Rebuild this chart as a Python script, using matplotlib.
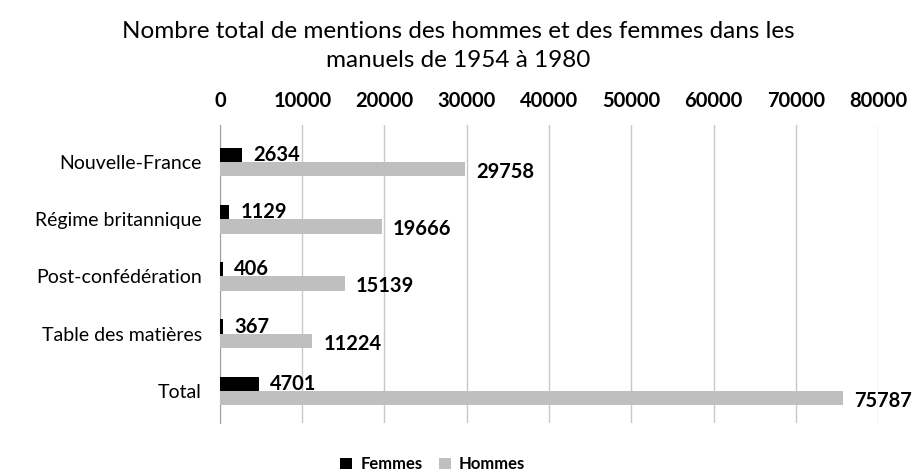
import numpy as np
import matplotlib.pyplot as plt

categories = ['Nouvelle-France', 'Régime britannique', 'Post-confédération',
              'Table des matières', 'Total']
femmes = [2634, 1129, 406, 367, 4701]
hommes = [29758, 19666, 15139, 11224, 75787]

plt.rcParams['font.family'] = ['Lato', 'DejaVu Sans']

fig = plt.figure(figsize=(9.17, 4.73), dpi=100)
ax = fig.add_axes([0.2399, 0.1057, 0.9575 - 0.2399, 0.7357 - 0.1057])

y = np.arange(len(categories))
h = 0.25
bf = ax.barh(y - h / 2, femmes, height=h, color='#000000', label='Femmes', zorder=3)
bh = ax.barh(y + h / 2, hommes, height=h, color='#bfbfbf', label='Hommes', zorder=3)

# data labels
for yi, v in zip(y, femmes):
    ax.annotate(str(v), (v, yi - h / 2), xytext=(8, 0), textcoords='offset points',
                va='center', ha='left', fontsize=14.5, fontweight='bold')
for yi, v in zip(y, hommes):
    ax.annotate(str(v), (v, yi + h / 2), xytext=(8, -2), textcoords='offset points',
                va='center', ha='left', fontsize=14.5, fontweight='bold')

ax.set_xlim(0, 80000)
ax.set_ylim(4.56, -0.646)
ax.set_xticks(np.arange(0, 80001, 10000))
ax.xaxis.tick_top()
ax.tick_params(axis='x', length=0, pad=10, labelsize=14.5)
for lab in ax.get_xticklabels():
    lab.set_fontweight('bold')
ax.set_yticks(y)
ax.set_yticklabels(categories, fontsize=14)
ax.tick_params(axis='y', length=0, pad=13)

ax.grid(axis='x', color='#c8c8c8', linewidth=1, zorder=0)
for s in ['top', 'right', 'bottom']:
    ax.spines[s].set_visible(False)
ax.spines['left'].set_color('#a0a0a0')

fig.suptitle('Nombre total de mentions des hommes et des femmes dans les\nmanuels de 1954 à 1980',
             y=0.955, fontsize=17.5, linespacing=1.45)

fig.legend(handles=[bf, bh], loc='lower center', bbox_to_anchor=(0.472, -0.03), ncol=2,
           frameon=False, handlelength=0.7, handleheight=0.7,
           columnspacing=1.0, handletextpad=0.5, prop={'weight': 'bold', 'size': 12})

fig.savefig('out.png', dpi=100)
